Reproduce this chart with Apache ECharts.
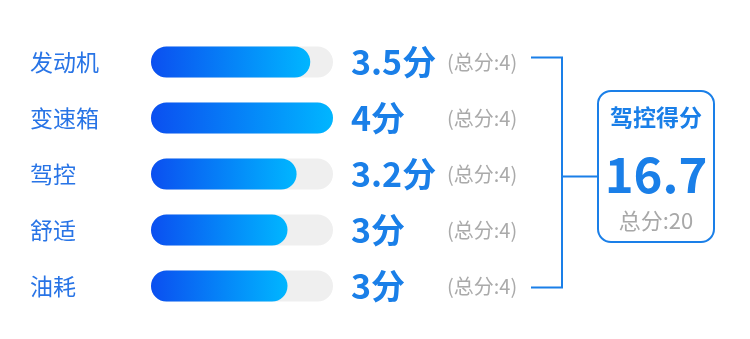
<!DOCTYPE html>
<html><head><meta charset="utf-8">
<script src="https://cdn.jsdelivr.net/npm/echarts@6/dist/echarts.min.js"></script>
<style>html,body{margin:0;padding:0;background:#fff}#c{width:750px;height:339px}</style>
</head><body><div id="c"></div>
<script>
const categories = ['发动机', '变速箱', '驾控', '舒适', '油耗'];
const scores = [3.5, 4, 3.2, 3, 3];
const fullScores = [4, 4, 4, 4, 4];
const totalTitle = '驾控得分';
const totalFull = 20;

const FONT = '"Noto Sans CJK SC", "Noto Sans", sans-serif';
const BLUE = '#1a7fe8';
const total = Math.round(scores.reduce((a, b) => a + b, 0) * 10) / 10;

const chart = echarts.init(document.getElementById('c'));
chart.setOption({
  animation: false,
  textStyle: { fontFamily: FONT },
  grid: { left: 151, width: 182, top: 34, height: 280 },
  xAxis: { type: 'value', min: 0, max: 4, show: false },
  yAxis: {
    type: 'category', data: categories, inverse: true,
    axisLine: { show: false }, axisTick: { show: false },
    axisLabel: { align: 'left', margin: 121, fontSize: 23, color: '#2874e6', fontFamily: FONT }
  },
  series: [
    {
      type: 'bar', data: fullScores, barWidth: 31, silent: true,
      itemStyle: { color: '#efefef', borderRadius: 15.5 },
      label: {
        show: true, position: 'right', distance: 18,
        formatter: p => '{v|' + scores[p.dataIndex] + '分}{t|(总分:' + fullScores[p.dataIndex] + ')}',
        rich: {
          v: { fontSize: 34, fontWeight: 'bold', color: BLUE, width: 96, fontFamily: FONT },
          t: { fontSize: 20, color: '#aaaaaa', fontFamily: FONT }
        }
      },
      z: 1
    },
    {
      type: 'bar', data: scores, barWidth: 31, barGap: '-100%',
      itemStyle: {
        borderRadius: 15.5,
        color: new echarts.graphic.LinearGradient(0, 0, 1, 0, [
          { offset: 0, color: '#0b4ff0' }, { offset: 1, color: '#00b6ff' }
        ])
      },
      z: 2
    }
  ],
  graphic: [
    { type: 'polyline', shape: { points: [[531, 57.5], [562, 57.5], [562, 287.5], [531, 287.5]] },
      style: { stroke: BLUE, lineWidth: 2, fill: null } },
    { type: 'line', shape: { x1: 562, y1: 176.5, x2: 598, y2: 176.5 }, style: { stroke: BLUE, lineWidth: 2 } },
    { type: 'rect', shape: { x: 598, y: 91, width: 116, height: 151, r: 13 },
      style: { stroke: BLUE, lineWidth: 2, fill: '#fff' } },
    { type: 'text', x: 656, y: 117, style: { text: totalTitle, font: 'bold 23px ' + FONT, fill: BLUE, align: 'center', verticalAlign: 'middle' } },
    { type: 'text', x: 656, y: 174, style: { text: String(total), font: 'bold 49px ' + FONT, fill: BLUE, align: 'center', verticalAlign: 'middle' } },
    { type: 'text', x: 656, y: 221, style: { text: '总分:' + totalFull, font: '22px ' + FONT, fill: '#a8a8a8', align: 'center', verticalAlign: 'middle' } }
  ]
});
</script></body></html>
